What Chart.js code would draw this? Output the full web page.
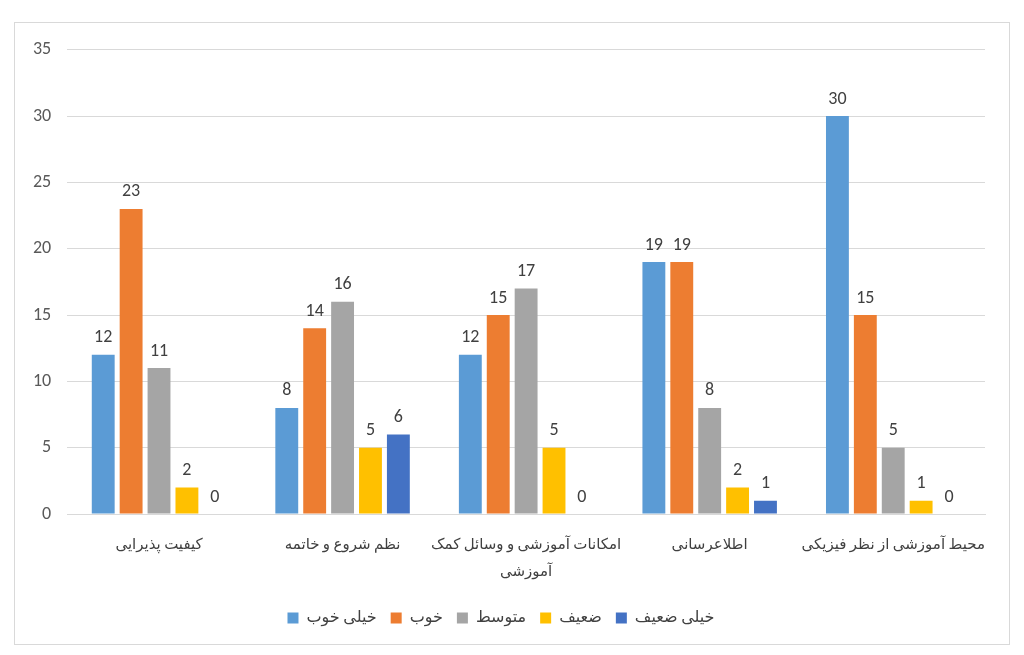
<!DOCTYPE html>
<html>
<head>
<meta charset="utf-8">
<script src="https://cdn.jsdelivr.net/npm/chart.js@4/dist/chart.umd.min.js"></script>
<style>
  html, body { margin: 0; padding: 0; background: #fff; }
  #frame {
    position: absolute; left: 14px; top: 22px;
    width: 994px; height: 621px;
    border: 1px solid #d9d9d9;
  }
  #wrap { position: absolute; left: 0; top: 0; width: 994px; height: 621px; }
</style>
</head>
<body>
<div id="frame"><div id="wrap"><canvas id="myChart"></canvas></div></div>
<script>
var categories = [
  "کیفیت پذیرایی",
  "نظم شروع و خاتمه",
  ["امکانات آموزشی و وسائل کمک", "آموزشی"],
  "اطلاعرسانی",
  "محیط آموزشی از نظر فیزیکی"
];
var seriesNames = ["خیلی خوب", "خوب", "متوسط", "ضعیف", "خیلی ضعیف"];
var veryGood = [12, 8, 12, 19, 30];
var good     = [23, 14, 15, 19, 15];
var average  = [11, 16, 17, 8, 5];
var weak     = [2, 5, 5, 2, 1];
var veryWeak = [0, 6, 0, 1, 0];
var colors = ["#5b9bd5", "#ed7d31", "#a5a5a5", "#ffc000", "#4472c4"];

var fontFamily = "Calibri, Carlito, 'Open Sans', 'DejaVu Sans', sans-serif";

// draws the value above each bar
var valueLabels = {
  id: "valueLabels",
  afterDatasetsDraw: function(chart) {
    var ctx = chart.ctx;
    ctx.save();
    ctx.fillStyle = "#404040";
    ctx.font = "18px " + fontFamily;
    ctx.textAlign = "center";
    ctx.textBaseline = "bottom";
    chart.data.datasets.forEach(function(ds, i) {
      var meta = chart.getDatasetMeta(i);
      meta.data.forEach(function(bar, j) {
        ctx.fillText(ds.data[j], bar.x, bar.y - 8);
      });
    });
    ctx.restore();
  }
};

var allSeries = [veryGood, good, average, weak, veryWeak];
var datasets = [];
allSeries.forEach(function(values, i) {
  datasets.push({
    label: seriesNames[i],
    data: values,
    backgroundColor: colors[i],
    categoryPercentage: 0.76,
    barPercentage: 0.82
  });
});

var myChart = new Chart(document.getElementById("myChart").getContext("2d"), {
  type: "bar",
  data: { labels: categories, datasets: datasets },
  plugins: [valueLabels],
  options: {
    responsive: true,
    maintainAspectRatio: false,
    animation: false,
    layout: { padding: { left: 2, right: 24, top: 9, bottom: 8 } },
    plugins: {
      tooltip: { enabled: false },
      legend: {
        position: "bottom",
        labels: {
          color: "#404040",
          font: { size: 16, family: fontFamily },
          boxWidth: 11,
          boxHeight: 11,
          padding: 14
        }
      }
    },
    scales: {
      x: {
        grid: { display: false },
        border: { color: "#d9d9d9" },
        ticks: {
          color: "#404040",
          font: { size: 15, family: fontFamily, lineHeight: 1.8 },
          padding: 10,
          maxRotation: 0,
          autoSkip: false
        }
      },
      y: {
        min: 0,
        max: 35,
        ticks: {
          stepSize: 5,
          color: "#595959",
          font: { size: 18, family: fontFamily },
          padding: 16
        },
        grid: { color: "#d9d9d9", drawTicks: false },
        border: { display: false }
      }
    }
  }
});
</script>
</body>
</html>
